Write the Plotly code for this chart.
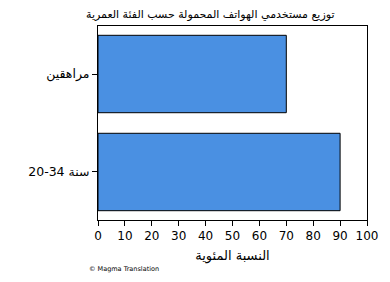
import plotly.graph_objects as go

# Age groups (bottom to top) and share of mobile phone users (%)
age_groups = ["\u200e20-34 سنة", "مراهقين"]
share_pct = [90, 70]
x_ticks = [0, 10, 20, 30, 40, 50, 60, 70, 80, 90, 100]

title_text = "توزيع مستخدمي الهواتف المحمولة حسب الفئة العمرية"
x_title = "النسبة المئوية"
credit = "© Magma Translation"

FONT = "DejaVu Sans"

# Figure size and plot-area margins in pixels
W, H = 390, 282
L, R, T, B = 98, 23, 26, 62
PW, PH = W - L - R, H - T - B


def paper_x(px):
    return (px - L) / PW


def paper_y(py):
    return (H - B - py) / PH


fig = go.Figure(
    go.Bar(
        x=share_pct,
        y=age_groups,
        orientation="h",
        width=0.79,
        marker=dict(color="#4a90e2", line=dict(color="black", width=1)),
    )
)

fig.update_layout(
    width=W,
    height=H,
    margin=dict(l=L, r=R, t=T, b=B),
    paper_bgcolor="white",
    plot_bgcolor="white",
    font=dict(family=FONT, color="black", size=12),
    showlegend=False,
    annotations=[
        dict(
            text=title_text, x=paper_x(210), y=paper_y(14),
            xref="paper", yref="paper",
            xanchor="center", yanchor="middle", showarrow=False,
            font=dict(family=FONT, size=11, color="black"),
        ),
        dict(
            text=credit, x=paper_x(87), y=paper_y(269),
            xref="paper", yref="paper",
            xanchor="left", yanchor="middle", showarrow=False,
            font=dict(family=FONT, size=6.5, color="black"),
        ),
    ],
)

fig.update_xaxes(
    range=[0, 100],
    tickvals=x_ticks,
    ticks="outside",
    ticklen=5,
    tickcolor="black",
    tickfont=dict(size=12),
    showline=True,
    linecolor="black",
    linewidth=1,
    mirror=True,
    showgrid=False,
    zeroline=False,
    title=dict(text=x_title, font=dict(size=13), standoff=8),
)

fig.update_yaxes(
    type="category",
    range=[-0.49, 1.49],
    ticks="outside",
    ticklen=5,
    tickcolor="black",
    tickfont=dict(size=12.5),
    showline=True,
    linecolor="black",
    linewidth=1,
    mirror=True,
    showgrid=False,
    zeroline=False,
)

fig.write_html("out.html")
